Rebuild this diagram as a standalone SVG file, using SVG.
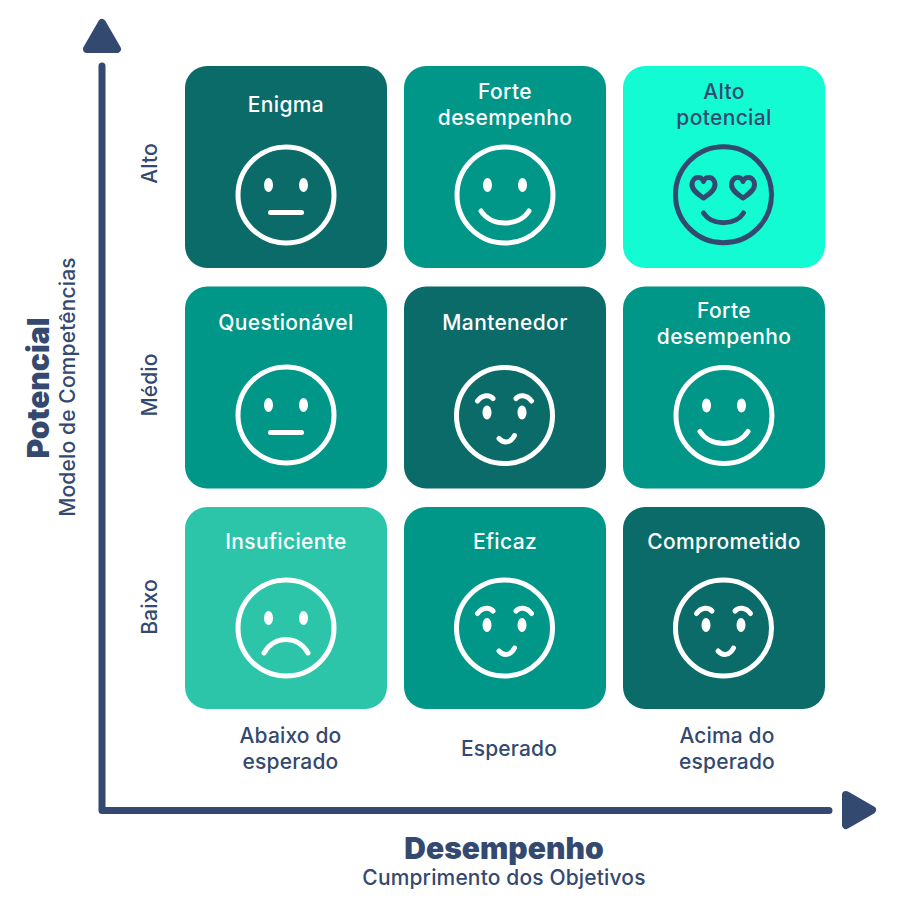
<svg xmlns="http://www.w3.org/2000/svg" width="900" height="910" viewBox="0 0 900 910">
<style>
text{font-family:"Inter","Noto Sans","Liberation Sans",sans-serif;font-weight:500;text-anchor:middle}
.t{font-size:21px;letter-spacing:.35px;fill:#fff}
.l{font-size:21px;letter-spacing:.15px;fill:#34496f}
.h{font-size:30px;font-weight:900;fill:#34496f}
.s{font-size:21px;letter-spacing:.15px;fill:#34496f}
.f{fill:none;stroke:#fff;stroke-width:5;stroke-linecap:round}
.e{fill:#fff}
.fn{fill:none;stroke:#34496f;stroke-width:5;stroke-linecap:round;stroke-linejoin:round}
.dark{fill:#0b6b69}.mid{fill:#009688}.bright{fill:#12fbd2}.light{fill:#2cc5a9}
</style>
<defs>
<g id="eyes"><ellipse class="e" cx="-17.5" cy="-10" rx="4.5" ry="7"/><ellipse class="e" cx="17.5" cy="-10" rx="4.5" ry="7"/></g>
<g id="neutral"><circle class="f" r="48"/><use href="#eyes"/><path class="f" d="M-15.500 17.500H15.500"/></g>
<g id="happy"><circle class="f" r="48"/><use href="#eyes"/><path class="f" d="M-24 16C-14 32 14 32 24 16"/></g>
<g id="sad"><circle class="f" r="48"/><use href="#eyes"/><path class="f" d="M-22 25C-12 7 12 7 22 25"/></g>
<g id="brows"><circle class="f" r="48"/><ellipse class="e" cx="-17.500" cy="-3" rx="4.500" ry="7"/><ellipse class="e" cx="17.500" cy="-3" rx="4.500" ry="7"/><path class="f" d="M-27 -14.500C-22 -21 -15 -21 -11.500 -17M11.500 -17C15 -21 22 -21 27 -14.500"/><path class="f" d="M-5.500 23C-1 28 6 28 10 20"/></g>
<path id="heart" class="fn" d="M0 14C-5 10.500 -11.500 6.500 -11.500 0.500C-11.500 -7.500 -1.500 -9 0 -2.500C1.500 -9 11.500 -7.500 11.500 0.500C11.500 6.500 5 10.500 0 14Z"/>
</defs>
<g id="connectors">
<path d="M102 66V810.500H829" fill="none" stroke="#34496f" stroke-width="7" stroke-linecap="round" stroke-linejoin="round"/>
<polygon points="102,23 117,49 87,49" fill="#34496f" stroke="#34496f" stroke-width="8" stroke-linejoin="round"/>
<polygon points="846,795 872,810 846,825" fill="#34496f" stroke="#34496f" stroke-width="8" stroke-linejoin="round"/>
</g>
<g id="n-enigma"><rect class="dark" x="185" y="66" width="202" height="202" rx="22"/><text class="t" x="286" y="111.500">Enigma</text><use href="#neutral" x="286" y="195"/></g>
<g id="n-forte1"><rect class="mid" x="404" y="66" width="202" height="202" rx="22"/><text class="t" x="505" y="98.500">Forte</text><text class="t" x="505" y="124.500">desempenho</text><use href="#happy" x="505" y="195"/></g>
<g id="n-alto"><rect class="bright" x="623" y="66" width="202" height="202" rx="22"/><text class="l" x="724" y="98.500" style="letter-spacing:.35px">Alto</text><text class="l" x="724" y="124.500" style="letter-spacing:.35px">potencial</text><circle class="fn" cx="723.500" cy="194.700" r="48"/><use href="#heart" x="703.500" y="184"/><use href="#heart" x="743" y="184"/><path class="fn" d="M703.500 213C712 226 735 226 743.500 213"/></g>
<g id="n-quest"><rect class="mid" x="185" y="286.500" width="202" height="202" rx="22"/><text class="t" x="286" y="329.500">Questionável</text><use href="#neutral" x="286" y="415"/></g>
<g id="n-mant"><rect class="dark" x="404" y="286.500" width="202" height="202" rx="22"/><text class="t" x="505" y="329.500">Mantenedor</text><use href="#brows" x="504.500" y="415.500"/></g>
<g id="n-forte2"><rect class="mid" x="623" y="286.500" width="202" height="202" rx="22"/><text class="t" x="724" y="317.500">Forte</text><text class="t" x="724" y="343.500">desempenho</text><use href="#happy" x="724" y="415.500"/></g>
<g id="n-insuf"><rect class="light" x="185" y="507" width="202" height="202" rx="22"/><text class="t" x="286" y="548.500">Insuficiente</text><use href="#sad" x="286" y="628"/></g>
<g id="n-eficaz"><rect class="mid" x="404" y="507" width="202" height="202" rx="22"/><text class="t" x="505" y="548.500">Eficaz</text><use href="#brows" x="504.500" y="628"/></g>
<g id="n-compr"><rect class="dark" x="623" y="507" width="202" height="202" rx="22"/><text class="t" x="724" y="548.500">Comprometido</text><use href="#brows" x="723.500" y="628"/></g>
<g id="labels">
<text class="l" transform="translate(157,163.500) rotate(-90)">Alto</text>
<text class="l" transform="translate(157,385) rotate(-90)">Médio</text>
<text class="l" transform="translate(157,607) rotate(-90)">Baixo</text>
<text class="l" x="290.500" y="743">Abaixo do</text><text class="l" x="290.500" y="769">esperado</text>
<text class="l" x="509" y="756">Esperado</text>
<text class="l" x="727" y="743">Acima do</text><text class="l" x="727" y="769">esperado</text>
<text class="h" transform="translate(49,388) rotate(-90)">Potencial</text>
<text class="s" transform="translate(75,387) rotate(-90)">Modelo de Competências</text>
<text class="h" x="504" y="859">Desempenho</text>
<text class="s" x="504" y="885">Cumprimento dos Objetivos</text>
</g>
</svg>
